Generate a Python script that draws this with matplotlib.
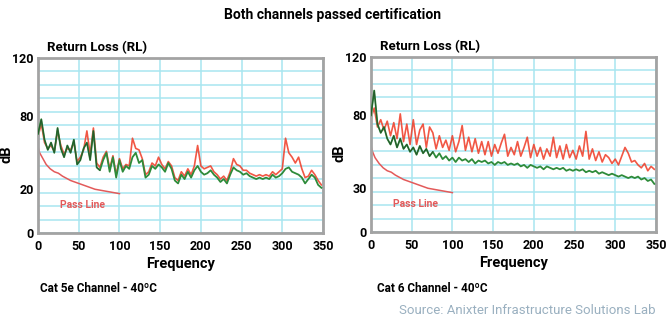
import numpy as np
import matplotlib
matplotlib.use("Agg")
import matplotlib.pyplot as plt

plt.rcParams['font.family'] = ['Roboto', 'DejaVu Sans']

freq = np.arange(0, 352, 4)

cat5e_green = [68, 78, 64, 57, 62, 55, 72, 58, 52, 60, 55, 64, 47, 50, 58, 62, 50, 70,
               45, 43, 50, 55, 42, 52, 38, 50, 42, 46, 44, 52, 55, 48, 50, 38, 40, 46,
               44, 47, 45, 42, 48, 44, 36, 34, 40, 37, 42, 38, 43, 46, 42, 40, 41, 43,
               40, 38, 35, 37, 34, 40, 45, 43, 42, 40, 41, 39, 38, 37, 38, 37, 38, 37,
               40, 38, 39, 41, 44, 45, 42, 41, 40, 38, 34, 37, 40, 38, 33, 31]
cat5e_red = [66, 75, 62, 58, 60, 56, 70, 60, 54, 58, 57, 62, 49, 52, 57, 70, 54, 72,
             48, 45, 52, 56, 44, 53, 40, 51, 44, 47, 46, 65, 58, 57, 51, 40, 42, 48,
             46, 52, 47, 44, 49, 46, 38, 36, 42, 39, 44, 40, 46, 60, 46, 44, 45, 46,
             42, 40, 37, 39, 36, 42, 51, 47, 46, 43, 43, 41, 40, 39, 40, 39, 40, 39,
             42, 40, 42, 44, 65, 55, 52, 48, 52, 44, 38, 39, 43, 40, 36, 33]

cat6_green = [80, 97, 74, 68, 72, 64, 60, 66, 58, 64, 57, 60, 55, 58, 53, 59, 54, 57,
              52, 55, 51, 54, 50, 52, 49, 51, 48, 51, 49, 50, 48, 50, 47, 49, 48, 49,
              47, 48, 46, 48, 47, 48, 46, 47, 46, 47, 45, 46, 44, 46, 45, 44, 45, 43,
              45, 44, 43, 44, 43, 44, 42, 43, 42, 43, 42, 43, 41, 42, 41, 42, 40, 41,
              40, 39, 40, 39, 38, 39, 38, 37, 38, 37, 38, 36, 37, 35, 36, 33]
cat6_red = [78, 85, 72, 77, 70, 76, 66, 75, 64, 81, 62, 74, 60, 77, 60, 70, 74, 58,
            72, 68, 57, 66, 58, 63, 56, 66, 55, 62, 73, 56, 65, 55, 64, 54, 62, 53,
            62, 52, 60, 54, 61, 67, 52, 58, 53, 62, 52, 58, 65, 51, 60, 52, 58, 50,
            57, 52, 65, 51, 59, 50, 60, 51, 56, 50, 59, 52, 69, 50, 57, 49, 55, 48,
            53, 51, 47, 50, 46, 52, 58, 54, 48, 49, 46, 44, 47, 42, 45, 43]

pass_freq = [0, 2, 5, 10, 15, 20, 25, 30, 40, 50, 60, 70, 80, 90, 100]
pass_5e = [59, 55, 52, 47, 44, 42, 41, 39, 36, 34, 32, 30, 29, 28, 27]
pass_6 = [59, 55, 51, 47, 44, 42, 41, 39, 36, 34, 32, 30, 29, 28, 27]

x_ticks = [0, 50, 100, 150, 200, 250, 300, 350]
y_ticks = [0, 30, 80, 120]
y_labels_5e = ['0', '20', '80', '120']
y_labels_6 = ['0', '30', '80', '120']

fig = plt.figure(figsize=(6.66, 3.23), dpi=100)

fig.text(0.5, 0.955, 'Both channels passed certification', ha='center', va='center',
         fontsize=10, fontweight='bold')


def draw(ax, green, red, pfreq, pline, ylabels):
    ax.set_xlim(0, 350)
    ax.set_ylim(0, 120)
    for v in np.linspace(0, 120, 14):
        ax.axhline(v, color='#a8e6f0', lw=1.1, zorder=0)
    for v in x_ticks:
        ax.axvline(v, color='#a8e6f0', lw=1.1, zorder=0)
    ax.plot(freq, red, color='#ef3a24', lw=1.2, alpha=0.85, zorder=2)
    ax.plot(freq, green, color='#2e8b3a', lw=1.3, zorder=3)
    ax.plot(freq[:20], green[:20], color='#1f3a22', lw=0.8, alpha=0.6, zorder=4)
    ax.plot(pfreq, pline, color='#e35a5a', lw=1.1, zorder=2)
    ax.text(27, 17, 'Pass Line', color='#e35a5a', fontsize=7.5, fontweight='bold')
    ax.set_xticks(x_ticks)
    ax.set_yticks(y_ticks)
    ax.set_yticklabels(ylabels)
    ax.tick_params(axis='x', length=0, labelsize=9, pad=5)
    ax.tick_params(axis='y', length=0, labelsize=9, pad=3)
    for lab in ax.get_xticklabels() + ax.get_yticklabels():
        lab.set_fontweight('bold')
    for s in ax.spines.values():
        s.set_color('#a3a3a3')
        s.set_linewidth(2)
    ax.set_xlabel('Frequency', fontsize=10.5, fontweight='bold', labelpad=3)
    ax.set_ylabel('dB', fontsize=10.5, fontweight='bold')
    ax.yaxis.set_label_coords(-0.085, 0.45)
    ax.set_title('Return Loss (RL)', fontsize=9.5, fontweight='bold', loc='left',
                 x=0.03, pad=5)


ax1 = fig.add_axes([0.0571, 0.2786, 0.4279, 0.5418])
draw(ax1, cat5e_green, cat5e_red, pass_freq, pass_5e, y_labels_5e)
ax2 = fig.add_axes([0.557, 0.2817, 0.4279, 0.5418])
draw(ax2, cat6_green, cat6_red, pass_freq, pass_6, y_labels_6)

fig.text(0.06, 0.108, 'Cat 5e Channel - 40ºC', fontsize=8.5, fontweight='bold', va='center')
fig.text(0.566, 0.108, 'Cat 6 Channel - 40ºC', fontsize=8.5, fontweight='bold', va='center')
fig.text(0.984, 0.04, 'Source: Anixter Infrastructure Solutions Lab', ha='right', va='center',
         fontsize=9.5, color='#9ab0c0')

fig.savefig('out.png', dpi=100)
